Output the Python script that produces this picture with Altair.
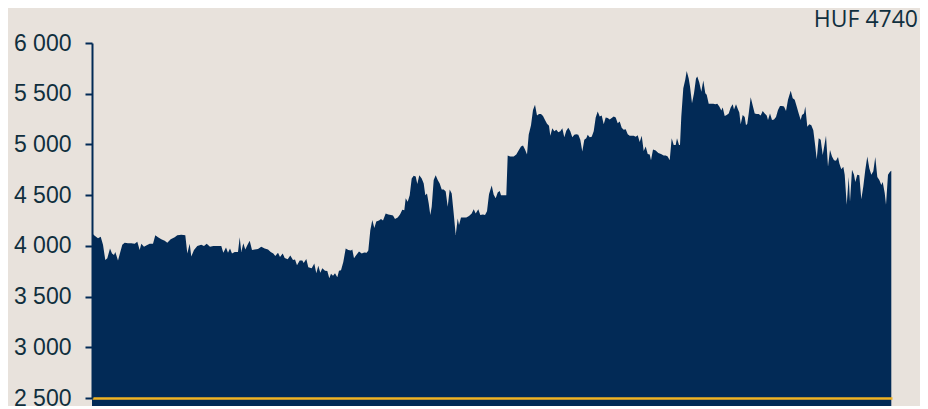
import altair as alt
import pandas as pd

# Trading-day position (0..800) and share price (HUF)
seg1_day = [0, 2.7, 6.0, 8.7, 11.0, 13.3, 15.3, 18.0, 20.0, 22.0, 23.3, 26.0, 28.3, 30.3, 32.7, 36.0, 39.3, 42.7, 45.3, 47.7,
            49.3, 52.0, 54.7, 57.7, 61.0, 63.3, 66.0, 69.3, 72.7, 75.3, 78.7, 82.7, 85.3, 89.3, 93.3, 95.3, 97.7, 99.3, 102.0, 105.3,
            109.3, 112.0, 114.7, 118.0, 121.3, 126.0, 129.3, 131.3, 134.0, 136.0, 138.0, 140.0, 142.7, 146.0, 147.7, 149.3, 151.3, 153.3, 155.3, 157.7,
            160.0, 162.7, 166.0, 169.3, 172.7, 176.0, 178.7, 181.3, 183.3, 186.0, 188.0, 190.7, 192.7]
seg1_price = [4125, 4100, 4075, 4090, 4010, 3860, 3877, 3975, 3925, 3910, 3940, 3855, 3940, 4010, 4030, 4025, 4025, 4020, 4040, 3960,
              4020, 3990, 4005, 4020, 4020, 4105, 4085, 4065, 4050, 4030, 4065, 4085, 4105, 4110, 4105, 3925, 4020, 3895, 3960, 3998,
              4012, 3998, 4020, 3990, 3998, 3998, 3998, 3933, 3985, 3933, 3975, 3925, 3940, 3940, 4085, 3940, 4025, 3965, 4005, 4050,
              3960, 3965, 3970, 3990, 3975, 3965, 3940, 3925, 3900, 3933, 3890, 3925, 3880]

seg2_day = [195.7, 198.3, 201.0, 203.0, 205.0, 207.7, 210.3, 211.7, 214.3, 216.3, 219.7, 222.3, 224.3, 226.3, 228.3, 230.3, 233.0, 235.3, 237.3, 239.0,
            241.0, 243.0, 245.3, 247.0, 249.0, 251.3, 253.7, 256.3, 259.0, 260.3, 262.0, 264.3, 267.0, 269.7, 272.3, 274.7, 276.3, 278.3, 280.3, 282.3,
            284.3, 287.0, 289.0, 291.0, 293.7, 296.3, 299.0, 301.0, 303.0, 305.7, 308.0, 310.3, 312.3, 313.7, 315.7, 317.7, 319.7, 321.7, 323.7, 325.3,
            327.3, 329.7, 331.7, 333.3, 335.0, 336.7, 338.3, 339.7, 341.7, 343.7, 345.7, 347.7, 349.7, 351.7, 353.7, 355.7, 357.7, 359.7, 361.7, 363.7,
            365.7, 367.0, 369.0, 371.7, 374.3, 377.0, 379.7, 381.7, 383.7, 386.3, 388.3, 391.0, 393.0]
seg2_price = [3867, 3905, 3860, 3865, 3810, 3855, 3855, 3830, 3870, 3790, 3780, 3825, 3730, 3805, 3735, 3780, 3755, 3752, 3680, 3725,
              3705, 3730, 3690, 3755, 3760, 3840, 3975, 3960, 3955, 3965, 3877, 3910, 3945, 3925, 3935, 3932, 3955, 4155, 4255, 4175,
              4240, 4250, 4265, 4250, 4320, 4310, 4305, 4300, 4265, 4280, 4310, 4355, 4350, 4470, 4435, 4500, 4665, 4690, 4685, 4610,
              4695, 4665, 4615, 4500, 4515, 4420, 4305, 4385, 4650, 4695, 4650, 4615, 4555, 4555, 4535, 4385, 4555, 4515, 4320, 4107,
              4270, 4205, 4280, 4280, 4280, 4295, 4320, 4360, 4320, 4360, 4305, 4310, 4305]

seg3_day = [395.0, 397.0, 399.7, 401.7, 403.7, 405.7, 407.7, 409.0, 411.7, 414.3, 415.7, 418.3, 421.7, 424.3, 426.3, 429.0, 431.0, 433.0, 435.0, 436.7,
            439.0, 441.0, 443.0, 445.0, 447.0, 449.0, 451.0, 453.0, 455.0, 457.0, 458.3, 460.3, 462.3, 464.3, 466.3, 468.3, 470.3, 472.3, 474.3, 476.3,
            478.3, 480.3, 482.3, 484.3, 486.3, 488.3, 490.3, 492.3, 494.3, 495.7, 497.7, 499.7, 501.7, 503.7, 505.7, 507.7, 509.7, 511.7, 513.7, 515.7,
            517.7, 519.7, 521.7, 523.7, 525.7, 527.7, 529.7, 531.7, 533.7, 535.7, 537.7, 539.7, 541.7, 543.7, 545.7, 547.7, 549.7, 551.7, 553.7, 555.7,
            557.7, 559.0, 561.0, 563.7, 566.3, 569.0, 571.7, 573.7, 575.7, 577.7, 579.7, 581.7, 583.7, 585.0, 587.0]
seg3_price = [4340, 4510, 4595, 4505, 4470, 4525, 4540, 4500, 4500, 4500, 4890, 4880, 4880, 4900, 4935, 4980, 4990, 4950, 4900, 5095,
              5190, 5340, 5390, 5285, 5300, 5300, 5280, 5240, 5205, 5185, 5085, 5160, 5130, 5145, 5120, 5130, 5160, 5070, 5135, 5165,
              5130, 5070, 5095, 5100, 5095, 5045, 4930, 5045, 5060, 5095, 5070, 5075, 5130, 5265, 5325, 5275, 5285, 5200, 5265, 5260,
              5245, 5260, 5275, 5265, 5210, 5225, 5165, 5145, 5150, 5100, 5085, 5085, 5085, 5075, 5090, 5025, 5085, 4935, 4980, 4905,
              4900, 4845, 4950, 4940, 4915, 4905, 4890, 4890, 4880, 4845, 5060, 4995, 4995, 5060, 4995]

seg4_day = [588.0, 589.3, 591.3, 593.3, 594.7, 596.7, 598.0, 600.0, 602.0, 604.0, 605.3, 607.3, 609.3, 611.3, 613.3, 614.7, 616.7, 618.7, 621.3, 623.3,
            625.3, 627.3, 629.3, 630.7, 632.7, 634.7, 636.7, 638.7, 640.7, 642.0, 644.0, 646.0, 647.3, 648.7, 650.7, 652.7, 654.0, 655.3, 656.7, 658.7,
            660.7, 662.7, 664.7, 666.7, 668.7, 670.7, 672.7, 674.7, 676.0, 678.0, 680.0, 682.0, 684.0, 686.0, 688.0, 690.0, 692.0, 694.0, 696.0, 698.7,
            700.7, 702.7, 704.7, 706.7, 708.7, 710.0, 712.0, 713.3, 715.3, 717.3, 719.3, 721.3, 723.3, 724.7, 726.7, 728.7, 730.7, 732.7, 734.0, 736.0,
            738.0, 740.0, 742.0, 744.0, 746.0, 747.3, 749.3, 751.3, 752.7, 754.7, 756.7, 758.0, 760.0, 762.0, 763.3, 765.3, 767.3, 769.3, 771.3, 773.3,
            775.3, 777.3, 779.3, 781.3, 783.3, 785.3, 787.3, 789.3, 790.7, 792.7, 794.0, 796.0, 798.0, 799.3]
seg4_price = [4995, 5275, 5555, 5640, 5725, 5650, 5570, 5405, 5505, 5650, 5670, 5610, 5520, 5630, 5505, 5490, 5400, 5400, 5400, 5395,
              5400, 5375, 5335, 5365, 5280, 5290, 5305, 5365, 5395, 5345, 5395, 5345, 5315, 5200, 5290, 5270, 5190, 5205, 5305, 5465,
              5385, 5305, 5300, 5300, 5285, 5330, 5305, 5285, 5240, 5305, 5240, 5245, 5270, 5340, 5380, 5380, 5375, 5330, 5440, 5530,
              5455, 5440, 5375, 5305, 5240, 5290, 5305, 5375, 5175, 5200, 5190, 5140, 4980, 4855, 5060, 5045, 4895, 5010, 5085, 4780,
              4945, 4880, 4845, 4840, 4875, 4815, 4755, 4780, 4700, 4405, 4680, 4435, 4750, 4700, 4630, 4700, 4695, 4460, 4585, 4750,
              4880, 4765, 4700, 4735, 4875, 4680, 4650, 4600, 4630, 4520, 4405, 4700, 4730, 4740]

y_ticks = [2500, 3000, 3500, 4000, 4500, 5000, 5500, 6000]
label_text = "HUF 4740"

days = seg1_day + seg2_day + seg3_day + seg4_day
prices = seg1_price + seg2_price + seg3_price + seg4_price
assert len(days) == len(prices)
df = pd.DataFrame({"day": days, "price": prices})

NAVY = "#022a56"
GOLD = "#f0b323"
TEXT = "#102f3e"
BG = "#e8e2dc"

area = alt.Chart(df).mark_area(color=NAVY, opacity=1, interpolate="linear").encode(
    x=alt.X("day:Q", scale=alt.Scale(domain=[0, 800], nice=False, zero=False),
            axis=alt.Axis(title=None, labels=False, ticks=False, grid=False,
                          domainColor=GOLD, domainWidth=2.5, zindex=1)),
    y=alt.Y("price:Q", scale=alt.Scale(domain=[2500, 6000], nice=False, zero=False),
            axis=alt.Axis(title=None, values=y_ticks, grid=False,
                          labelExpr="replace(format(datum.value, ','), ',', ' ')",
                          labelFont="Liberation Sans", labelFontSize=23, labelColor=TEXT,
                          labelPadding=14, tickSize=7, tickWidth=2, tickColor=NAVY,
                          domainColor=NAVY, domainWidth=2, zindex=1)),
)

label = alt.Chart(pd.DataFrame({"t": [label_text]})).mark_text(
    align="right", baseline="alphabetic", font="Open Sans", fontSize=23, color=TEXT
).encode(x=alt.value(826), y=alt.value(-16.5), text="t:N")

chart = alt.layer(area, label).properties(
    width=800, height=355,
    autosize=alt.AutoSizeParams(type="none"),
    padding={"left": 84, "top": 35, "right": 28, "bottom": 8},
    background=BG,
).configure_view(stroke=None)

chart.save("out.html", embed_options={"renderer": "svg", "actions": False})
